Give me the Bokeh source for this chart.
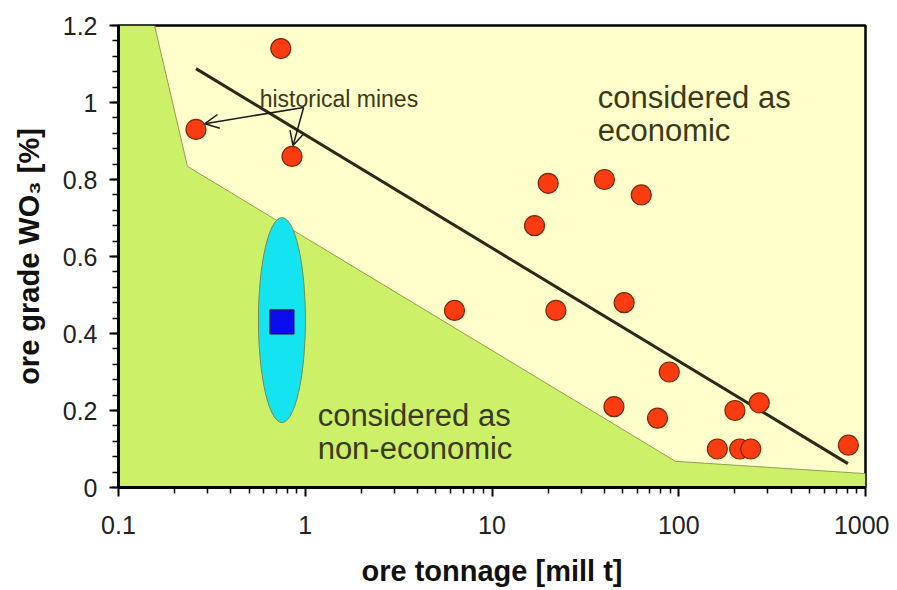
from bokeh.plotting import figure
from bokeh.models import Range1d, FixedTicker, Arrow, OpenHead, Label
from bokeh.embed import file_html
from bokeh.resources import INLINE

# ---- data ----
tonnage = [0.74, 0.26, 0.85, 6.3, 16.9, 20.0, 22.0, 40.0, 63.0, 51.0, 45.0,
           89.0, 77.0, 200.0, 270.0, 161.0, 212.0, 243.0, 810.0]
grade = [1.14, 0.93, 0.86, 0.46, 0.68, 0.79, 0.46, 0.80, 0.76, 0.48, 0.21,
         0.30, 0.18, 0.20, 0.22, 0.10, 0.10, 0.10, 0.11]

project_tonnage = [0.75]
project_grade = [0.43]
project_range_center = [0.435]
project_range_height = [0.532]

trend_x = [0.26, 805.0]
trend_y = [1.088, 0.062]

boundary_x = [0.156, 0.234, 96.0, 1000.0]
boundary_y = [1.2, 0.834, 0.068, 0.036]

x_ticks = [0.1, 1, 10, 100, 1000]
x_tick_labels = ["0.1", "1", "10", "100", "1000"]
y_ticks = [0, 0.2, 0.4, 0.6, 0.8, 1.0, 1.2]
y_tick_labels = ["0", "0.2", "0.4", "0.6", "0.8", "1", "1.2"]

# annotation anchors
arrow_fork = (0.98, 0.987)
arrow_tips = [(0.29, 0.945), (0.86, 0.888)]

YELLOW = "#ffffcc"
GREEN = "#ccf169"
TXT = "#3a3a18"
FONT = "Liberation Sans"

p = figure(x_axis_type="log", x_range=Range1d(0.1, 1000), y_range=Range1d(0, 1.2),
           frame_width=747, frame_height=462,
           min_border_left=118, min_border_top=25, min_border_right=24, min_border_bottom=102,
           output_backend="svg", toolbar_location=None,
           background_fill_color=YELLOW, border_fill_color="white")
p.grid.visible = False
p.outline_line_color = "black"
p.outline_line_width = 2.5

# non-economic region
gx = [0.1] + boundary_x + [1000.0, 0.1]
gy = [1.2] + boundary_y + [0.0, 0.0]
p.patch(gx, gy, fill_color=GREEN, line_color=None)
p.line(boundary_x, boundary_y, line_color="#8f9f55", line_width=1)

# project range ellipse and project
p.ellipse(x=project_tonnage, y=project_range_center, width=47, height=project_range_height,
          width_units="screen", height_units="data",
          fill_color="#14e4ef", line_color="#7a8a50", line_width=1)
p.scatter(project_tonnage, project_grade, marker="square", size=24,
          fill_color="#0c0cf0", line_color="#101040", line_width=1.2)

# trend line
p.line(trend_x, trend_y, line_color="#2a2a14", line_width=3)

# arrows
for tx, ty in arrow_tips:
    p.add_layout(Arrow(end=OpenHead(size=14, line_width=1.5, line_color="#1a1a1a"),
                       x_start=arrow_fork[0], y_start=arrow_fork[1], x_end=tx, y_end=ty,
                       line_width=1.5, line_color="#1a1a1a"))

# mines
p.scatter(tonnage, grade, size=20, fill_color="#fa3c10", line_color="#7a2808", line_width=1.2)

# texts
labels = [
    ("historical mines", 0.57, 1.008, "23px"),
    ("considered as", 36.8, 1.013, "31px"),
    ("economic", 36.8, 0.927, "31px"),
    ("considered as", 1.165, 0.187, "31px"),
    ("non-economic", 1.165, 0.101, "31px"),
]
for t, lx, ly, fs in labels:
    p.add_layout(Label(x=lx, y=ly, text=t, text_font=FONT, text_font_size=fs,
                       text_color=TXT, text_baseline="alphabetic", text_align="left"))

# axes
p.xaxis.ticker = FixedTicker(ticks=x_ticks,
                             minor_ticks=[m * 10.0 ** e for e in range(-1, 3) for m in range(2, 10)])
p.xaxis.major_label_overrides = {t: l for t, l in zip(x_ticks, x_tick_labels)}
p.yaxis.ticker = FixedTicker(ticks=y_ticks, minor_ticks=[round(i * 0.04, 2) for i in range(31)])
p.yaxis.major_label_overrides = {t: l for t, l in zip(y_ticks, y_tick_labels)}

p.xaxis.axis_label = "ore tonnage [mill t]"
p.yaxis.axis_label = "ore grade WO\u2083 [%]"
for ax in (p.xaxis, p.yaxis):
    ax.axis_line_width = 3
    ax.axis_line_color = "black"
    ax.major_tick_in = 0
    ax.major_tick_out = 9
    ax.minor_tick_in = 0
    ax.minor_tick_out = 6
    ax.major_tick_line_width = 2
    ax.minor_tick_line_width = 1.5
    ax.major_label_text_font = FONT
    ax.major_label_text_font_size = "25px"
    ax.major_label_text_color = "#222222"
    ax.axis_label_text_font = FONT
    ax.axis_label_text_font_style = "bold"
    ax.axis_label_text_font_size = "29px"
    ax.axis_label_text_color = "#111111"
p.xaxis.major_label_standoff = 19
p.xaxis.axis_label_standoff = 18
p.yaxis.major_label_standoff = 12
p.yaxis.axis_label_standoff = 15

open("out.html", "w").write(file_html(p, INLINE))
